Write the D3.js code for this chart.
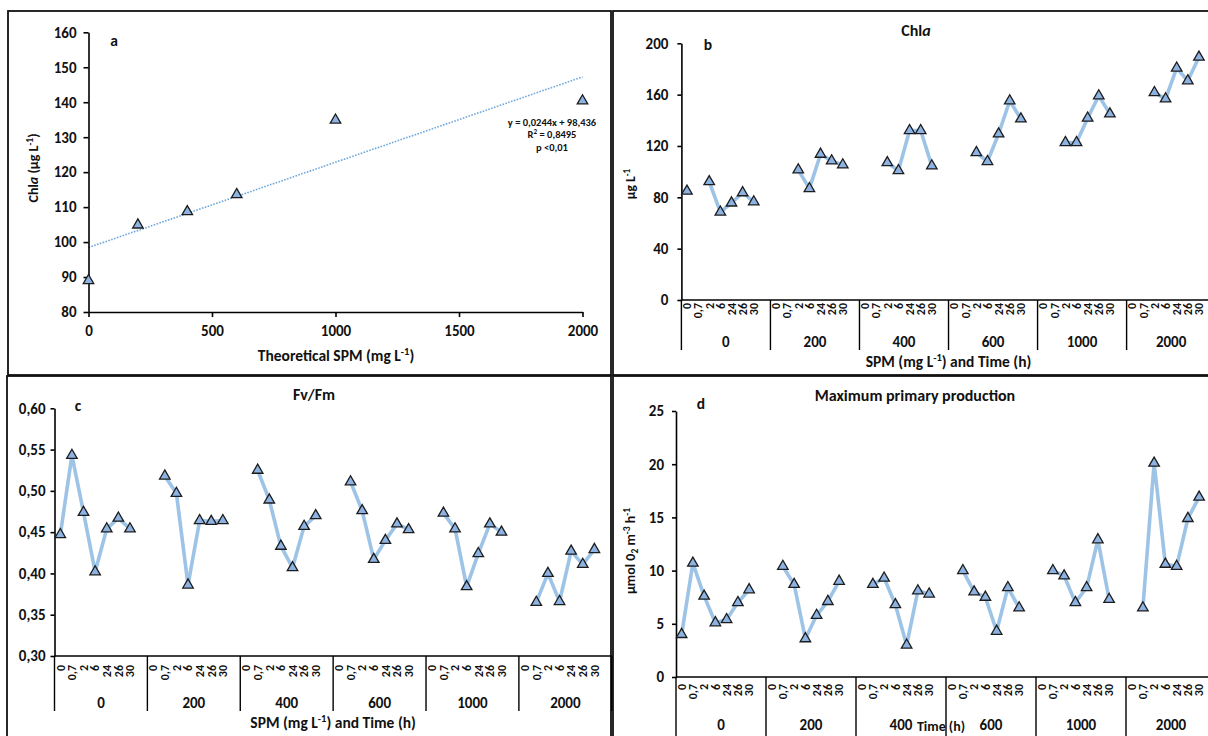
<!DOCTYPE html>
<html><head><meta charset="utf-8">
<script src="https://cdn.jsdelivr.net/npm/d3@7"></script>
<style>
body{margin:0;background:#fff;}
svg{display:block;}
</style></head><body>
<svg id="chart" width="1208" height="736"></svg>
<script>
// ---------------- DATA ----------------
const timeLabels = ["0","0,7","2","6","24","26","30"];
const spmGroups  = ["0","200","400","600","1000","2000"];

// Panel a
const spmA  = [0, 200, 400, 600, 1000, 2000];
const chlaA = [89.0, 104.9, 108.7, 113.6, 134.9, 140.4];
const trendSlope = 0.0244, trendIntercept = 98.436;
const trendText = ["y = 0,0244x + 98,436", "R² = 0,8495", "p <0,01"];
const ticksAx = [0, 500, 1000, 1500, 2000];
const ticksAy = [80, 90, 100, 110, 120, 130, 140, 150, 160];

// Panel b : Chla (µg/L) per SPM group, times 0,0.7,2,6,24,26,30
const chlaB_0    = [84.8, null, 92.2, 68.5, 75.6, 83.6, 76.5];
const chlaB_200  = [null, null, 101.4, 86.8, 113.6, 108.4, 105.3];
const chlaB_400  = [null, null, 107.0, 100.8, 132.0, 132.0, 104.5];
const chlaB_600  = [null, null, 114.9, 107.9, 129.4, 155.2, 141.1];
const chlaB_1000 = [null, null, 122.7, 122.7, 141.7, 159.1, 145.0];
const chlaB_2000 = [null, null, 161.6, 156.7, 180.7, 170.8, 189.2];
const ticksB = [0, 40, 80, 120, 160, 200];

// Panel c : Fv/Fm
const fvfm_0    = [0.447, 0.543, 0.474, 0.402, 0.454, 0.467, 0.454];
const fvfm_200  = [null, 0.518, 0.497, 0.386, 0.464, 0.463, 0.464];
const fvfm_400  = [null, 0.525, 0.489, 0.433, 0.407, 0.457, 0.470];
const fvfm_600  = [null, 0.511, 0.476, 0.417, 0.440, 0.460, 0.453];
const fvfm_1000 = [null, 0.473, 0.454, 0.384, 0.424, 0.460, 0.450];
const fvfm_2000 = [null, 0.365, 0.400, 0.366, 0.427, 0.411, 0.429];
const ticksC = [0.30, 0.35, 0.40, 0.45, 0.50, 0.55, 0.60];

// Panel d : Maximum primary production
const prod_0    = [4.0, 10.7, 7.6, 5.1, 5.4, 7.0, 8.2];
const prod_200  = [null, 10.4, 8.7, 3.6, 5.8, 7.1, 9.0];
const prod_400  = [null, 8.7, 9.3, 6.8, 3.0, 8.1, 7.8];
const prod_600  = [null, 10.0, 8.0, 7.5, 4.3, 8.4, 6.5];
const prod_1000 = [null, 10.0, 9.5, 7.0, 8.4, 12.9, 7.3];
const prod_2000 = [null, 6.5, 20.1, 10.6, 10.4, 14.9, 16.9];
const ticksD = [0, 5, 10, 15, 20, 25];

// ---------------- STYLE ----------------
const FONT = "Carlito, Lato, 'Open Sans', sans-serif";
const LINE_COLOR = "#9dc3e6";
const MARK_FILL = "#8db3e2";
const MARK_STROKE = "#1c1c1c";
const INK = "#111";
const TICK_FS = 15, TITLE_FS = 16, AXT_FS = 15.5, GROUP_FS = 15, TIME_FS = 12, LETTER_FS = 15.5;
const commaLocale = d3.formatLocale({decimal: ",", thousands: ".", grouping: [3], currency: ["", ""]});

const svg = d3.select("#chart").attr("font-family", FONT).attr("font-weight", "bold");
svg.append("rect").attr("width", 1208).attr("height", 736).attr("fill", "#fff");

// panel frames
[[8, 11, 603, 364], [613, 11, 610, 364], [7, 376, 604, 380], [613, 376, 610, 380]].forEach(b => {
  svg.append("rect").attr("x", b[0]).attr("y", b[1]).attr("width", b[2]).attr("height", b[3])
    .attr("fill", "none").attr("stroke", "#111").attr("stroke-width", 1.8);
});

function rich(sel, parts, base) {
  let shift = 0;
  parts.forEach(p => {
    const t = typeof p === "string" ? p : p[0];
    const s = typeof p === "string" ? null : p[1];
    const ts = sel.append("tspan").text(t);
    let target = 0;
    if (s === "sup") { target = -base * 0.38; ts.attr("font-size", base * 0.68); }
    else if (s === "sub") { target = base * 0.22; ts.attr("font-size", base * 0.68); }
    else if (s === "it") ts.attr("font-style", "italic");
    if (target !== shift) { ts.attr("dy", target - shift); shift = target; }
  });
  return sel;
}

function styleAxis(g, size) {
  g.attr("font-family", FONT).attr("font-size", size).attr("font-weight", "bold");
  g.selectAll(".domain").attr("stroke", "#000").attr("stroke-width", 1.6);
  g.selectAll(".tick line").attr("stroke", "#000").attr("stroke-width", 1.6);
  g.selectAll(".tick text").attr("fill", INK);
}

const tri = d3.symbol(d3.symbolTriangle, 48);
function marker(g, x, y) {
  g.append("path").attr("d", tri).attr("transform", `translate(${x},${y})`)
    .attr("fill", MARK_FILL).attr("stroke", MARK_STROKE).attr("stroke-width", 1.3);
}

function label(x, y, parts, size, opts = {}) {
  const t = svg.append("text").attr("x", x).attr("y", y).attr("font-size", size)
    .attr("text-anchor", opts.anchor || "middle").attr("fill", INK);
  if (opts.rotate) t.attr("transform", `rotate(-90,${x},${y})`);
  rich(t, parts, size);
  return t;
}

// ---------------- PANEL A ----------------
(function () {
  const x = d3.scaleLinear().domain([0, 2000]).range([88.5, 582.5]);
  const y = d3.scaleLinear().domain([80, 160]).range([312, 32.3]);
  const g = svg.append("g");
  g.append("line").attr("x1", x(0)).attr("x2", x(2000))
    .attr("y1", y(trendIntercept)).attr("y2", y(trendIntercept + trendSlope * 2000))
    .attr("stroke", "#6fa8dc").attr("stroke-width", 1.6).attr("stroke-dasharray", "1.6,1.4");
  const ya = g.append("g").attr("transform", `translate(${x(0)},0)`)
    .call(d3.axisLeft(y).tickValues(ticksAy).tickSize(5).tickPadding(7).tickSizeOuter(0));
  styleAxis(ya, TICK_FS);
  const xa = g.append("g").attr("transform", `translate(0,${y(80)})`)
    .call(d3.axisBottom(x).tickValues(ticksAx).tickFormat(d3.format("d")).tickSize(5).tickPadding(8).tickSizeOuter(0));
  styleAxis(xa, TICK_FS);
  spmA.forEach((s, i) => marker(g, x(s), y(chlaA[i])));
  trendText.forEach((t, i) => {
    const parts = i === 1 ? ["R", ["2", "sup"], " = 0,8495"] : [t];
    label(552, 126 + i * 12.3, parts, 10.5);
  });
  label(114, 46, ["a"], LETTER_FS);
  label(336, 361, ["Theoretical SPM (mg L", ["-1", "sup"], ")"], AXT_FS);
  label(38, 168, ["Chl", ["a", "it"], " (µg L", ["-1", "sup"], ")"], 14, {rotate: true});
})();

// ---------------- CATEGORY PANELS ----------------
function categoryPanel(cfg) {
  const rows = [];
  cfg.series.forEach((arr, gi) => {
    for (let i = 0; i < 8; i++) rows.push({key: gi + "|" + i, g: gi, i: i, v: i < 7 ? arr[i] : null});
  });
  const x = d3.scaleBand().domain(rows.map(r => r.key))
    .range([cfg.x0, cfg.x0 + rows.length * cfg.w]).padding(0);
  const bw = x.bandwidth();
  const y = d3.scaleLinear().domain(cfg.domain).range(cfg.yRange);
  const g = svg.append("g");
  const yAxisY = y(cfg.domain[0]);

  const ya = g.append("g").attr("transform", `translate(${cfg.x0},0)`)
    .call(d3.axisLeft(y).tickValues(cfg.ticks).tickFormat(cfg.fmt)
      .tickSize(cfg.tickSize).tickPadding(cfg.tickPad).tickSizeOuter(0));
  styleAxis(ya, TICK_FS);

  g.append("line").attr("x1", cfg.x0).attr("x2", x.range()[1])
    .attr("y1", yAxisY).attr("y2", yAxisY).attr("stroke", "#000").attr("stroke-width", 1.6);

  spmGroups.forEach((name, gi) => {
    const sx = x(gi + "|0");
    g.append("line").attr("x1", sx).attr("x2", sx).attr("y1", yAxisY).attr("y2", cfg.sepBottom)
      .attr("stroke", "#000").attr("stroke-width", 1.4);
    g.append("text").attr("x", sx + bw * 4).attr("y", cfg.groupY).attr("text-anchor", "middle")
      .attr("font-size", GROUP_FS).attr("fill", INK).text(name);
  });
  const endX = x.range()[1];
  g.append("line").attr("x1", endX).attr("x2", endX).attr("y1", yAxisY).attr("y2", cfg.sepBottom)
    .attr("stroke", "#000").attr("stroke-width", 1.4);

  rows.filter(r => r.i < 7).forEach(r => {
    const cx = x(r.key) + bw / 2, cy = yAxisY + cfg.labelGap;
    g.append("text").attr("x", cx).attr("y", cy).attr("dy", "0.36em")
      .attr("transform", `rotate(-90,${cx},${cy})`).attr("text-anchor", "end")
      .attr("font-size", TIME_FS).attr("fill", INK).text(timeLabels[r.i]);
  });

  const line = d3.line().defined(d => d.v != null).x(d => x(d.key) + bw / 2).y(d => y(d.v));
  g.append("path").datum(rows).attr("d", line).attr("fill", "none")
    .attr("stroke", LINE_COLOR).attr("stroke-width", 3.6).attr("stroke-linejoin", "round");
  rows.filter(r => r.v != null).forEach(r => marker(g, x(r.key) + bw / 2, y(r.v)));

  return {x, y, mid: (cfg.x0 + x.range()[1]) / 2};
}

// Panel b
const pb = categoryPanel({
  series: [chlaB_0, chlaB_200, chlaB_400, chlaB_600, chlaB_1000, chlaB_2000],
  x0: 681.4, w: 11.13, domain: [0, 200], yRange: [300, 43.3], ticks: ticksB,
  fmt: d3.format("d"), tickSize: 4, tickPad: 9, labelGap: 3, groupY: 347, sepBottom: 350
});
label(916, 36, ["Chl", ["a", "it"]], TITLE_FS);
label(708, 50, ["b"], LETTER_FS);
label(pb.mid, 367, ["SPM (mg L", ["-1", "sup"], ") and Time (h)"], AXT_FS);
label(635, 184, ["µg L", ["-1", "sup"]], 13.5, {rotate: true});

// Panel c
const pc = categoryPanel({
  series: [fvfm_0, fvfm_200, fvfm_400, fvfm_600, fvfm_1000, fvfm_2000],
  x0: 54.5, w: 11.61, domain: [0.30, 0.60], yRange: [656, 408.3], ticks: ticksC,
  fmt: commaLocale.format(".2f"), tickSize: 4, tickPad: 5, labelGap: 9, groupY: 708, sepBottom: 711
});
label(314, 400, ["Fv/Fm"], TITLE_FS);
label(78, 411, ["c"], LETTER_FS);
label(pc.mid, 728, ["SPM (mg L", ["-1", "sup"], ") and Time (h)"], AXT_FS);

// Panel d
const pd = categoryPanel({
  series: [prod_0, prod_200, prod_400, prod_600, prod_1000, prod_2000],
  x0: 676, w: 11.25, domain: [0, 25], yRange: [677, 411], ticks: ticksD,
  fmt: d3.format("d"), tickSize: 4, tickPad: 8, labelGap: 7, groupY: 730, sepBottom: 745
});
label(915, 401, ["Maximum primary production"], TITLE_FS);
label(701, 409, ["d"], LETTER_FS);
label(941, 731, ["Time (h)"], 14);
label(635, 551, ["µmol 0", ["2", "sub"], " m", ["-3", "sup"], " h", ["-1", "sup"]], 14, {rotate: true});
</script>
</body></html>
